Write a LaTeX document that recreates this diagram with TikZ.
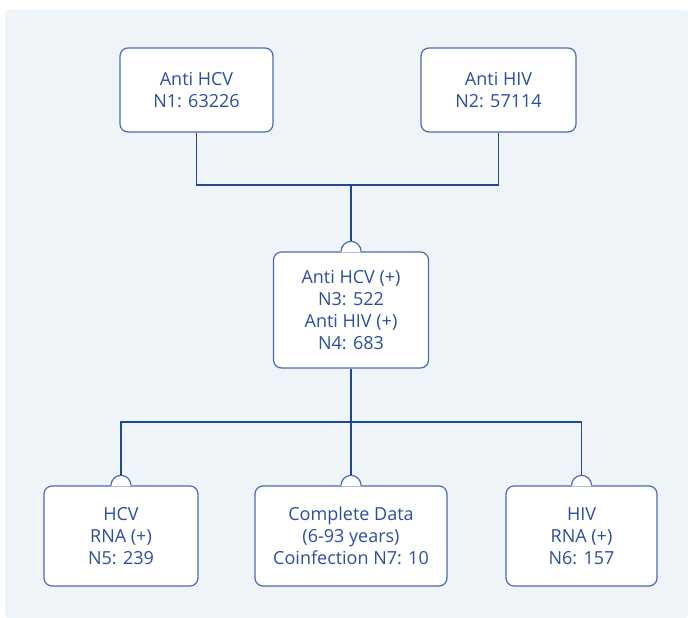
\documentclass[tikz,border=0pt]{standalone}
\usepackage{fontspec}
\setmainfont{Open Sans}
\definecolor{bgc}{HTML}{EFF4F8}
\definecolor{boxc}{HTML}{4A6CB0}
\definecolor{linec}{HTML}{1F4891}
\definecolor{txtc}{HTML}{2C4F9B}
\tikzset{
  box/.style={draw=boxc, line width=1.2pt, fill=white, rounded corners=8pt,
    align=center, text=txtc, inner sep=0pt,
    font=\fontsize{18}{22}\selectfont},
  conn/.style={draw=linec, line width=1.5pt},
}
\newcommand\mybump[1]{%
  \fill[white] ([xshift=-9.3pt,yshift=-1pt]#1.north) -- ([xshift=-10pt]#1.north)
     arc[start angle=180,end angle=0,radius=10pt] -- ([xshift=9.3pt,yshift=-1pt]#1.north) -- cycle;
  \draw[boxc, line width=1.2pt] ([xshift=-10pt]#1.north) arc[start angle=180,end angle=0,radius=10pt];
}
\begin{document}
\begin{tikzpicture}[x=1pt,y=-1pt]
\useasboundingbox (0,0) rectangle (688,618);
\fill[bgc, rounded corners=3pt] (5,10) rectangle (688,618);

\node[box, minimum width=153pt, minimum height=84pt] (a) at (196.5,90) {Anti HCV\\N1: 63226};
\node[box, minimum width=155pt, minimum height=84pt] (b) at (498.5,90) {Anti HIV\\N2: 57114};
\node[box, minimum width=155pt, minimum height=116pt] (m) at (351,310) {Anti HCV (+)\\N3: 522\\Anti HIV (+)\\N4: 683};
\node[box, minimum width=154pt, minimum height=100pt] (h) at (121,536) {HCV\\RNA (+)\\N5: 239};
\node[box, minimum width=192pt, minimum height=100pt] (c) at (351,536) {Complete Data\\(6-93 years)\\Coinfection N7: 10};
\node[box, minimum width=151pt, minimum height=100pt] (v) at (581.5,536) {HIV\\RNA (+)\\N6: 157};

\mybump{m}
\mybump{h}
\mybump{c}
\mybump{v}

\coordinate (j1) at (351,185);
\coordinate (j2) at (351,422);
\draw[conn] (a.south) |- (j1);
\draw[conn] (b.south) |- (j1);
\draw[conn] (j1) -- ([yshift=10pt]m.north);
\draw[conn] (m.south) -- (j2);
\draw[conn] ([yshift=10pt]h.north) |- (j2);
\draw[conn] ([yshift=10pt]v.north) |- (j2);
\draw[conn] (j2) -- ([yshift=10pt]c.north);
\end{tikzpicture}
\end{document}
